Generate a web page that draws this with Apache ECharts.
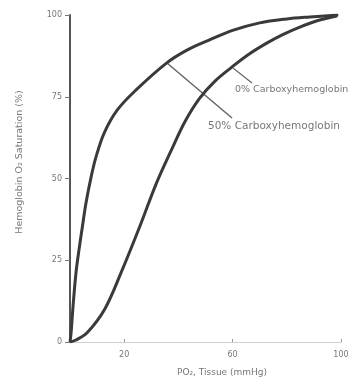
<!DOCTYPE html>
<html>
<head>
<meta charset="utf-8">
<script src="https://cdn.jsdelivr.net/npm/echarts@6/dist/echarts.min.js"></script>
<style>
  html, body { margin: 0; padding: 0; background: #fff; }
  #chart { width: 358px; height: 380px; }
</style>
</head>
<body>
<div id="chart"></div>
<script>
// PO2 (mm Hg) / saturation (%) pairs
const co50 = [[0,0],[0.4,2.8],[1.1,10.7],[2.2,21.1],[3.3,28.1],[4.4,34.3],[5.9,42.5],[7.8,50.5],[9.6,56.6],[12.6,63.9],[17.4,70.9],[24.4,77.1],[35.6,85.3],[43,89.2],[51.5,92.4],[60,95.3],[70,97.6],[80,98.8],[88.5,99.4],[99,100]];
const co0 = [[0,0],[2.2,0.6],[6.3,2.8],[12.8,10],[19,21.5],[25.6,35],[31.9,48.6],[37.4,58.7],[42.5,67.5],[47.8,74.5],[53.5,79.8],[59.6,84],[66,88],[72.6,91.4],[78.5,94],[84.8,96.3],[91.5,98.3],[98.5,99.7]];
const xTicks = [20, 60, 100];
const yTicks = [0, 25, 50, 75, 100];
const labelTop = '0% Carboxyhemoglobin';
const labelBottom = '50% Carboxyhemoglobin';

const chart = echarts.init(document.getElementById('chart'));
const font = 'DejaVu Sans';
const lineStyle = { color: '#3a3a3a', width: 3 };

chart.setOption({
  animation: false,
  textStyle: { fontFamily: font },
  grid: { left: 70, right: 17, top: 15, bottom: 38, outerBoundsMode: 'none' },
  xAxis: {
    type: 'value', min: 0, max: 100, interval: 20,
    axisLine: { lineStyle: { color: '#cfcfcf', width: 1 } },
    axisTick: { customValues: xTicks, length: 3, inside: true, lineStyle: { color: '#999' } },
    axisLabel: { customValues: xTicks, color: '#777', fontSize: 8, margin: 9 },
    splitLine: { show: false }
  },
  yAxis: {
    type: 'value', min: 0, max: 100, interval: 25,
    axisLine: { show: true, lineStyle: { color: '#555', width: 2 } },
    axisTick: { show: true, customValues: yTicks, length: 5, lineStyle: { color: '#777' } },
    axisLabel: { customValues: yTicks, color: '#777', fontSize: 8, margin: 8 },
    splitLine: { show: false }
  },
  series: [
    { type: 'line', data: co50, smooth: 0.35, showSymbol: false, lineStyle: lineStyle },
    { type: 'line', data: co0, smooth: 0.35, showSymbol: false, lineStyle: lineStyle }
  ],
  graphic: [
    { type: 'line', shape: { x1: 167, y1: 63, x2: 232, y2: 118 }, style: { stroke: '#666', lineWidth: 1.5 } },
    { type: 'line', shape: { x1: 233, y1: 68, x2: 252, y2: 83 }, style: { stroke: '#666', lineWidth: 1.2 } },
    { type: 'text', left: 235, top: 85, style: { text: labelTop, fill: '#777', fontSize: 9.5, fontFamily: font } },
    { type: 'text', left: 208, top: 121, style: { text: labelBottom, fill: '#777', fontSize: 10.5, fontFamily: font } },
    { type: 'text', x: 20, y: 162, rotation: Math.PI / 2,
      style: { text: 'Hemoglobin O\u2082 Saturation (%)', fill: '#777', fontSize: 9.5, fontFamily: font, align: 'center', verticalAlign: 'middle' } },
    { type: 'text', x: 222, y: 373, style: { text: 'PO\u2082, Tissue (mmHg)', fill: '#777', fontSize: 9, fontFamily: font, align: 'center', verticalAlign: 'middle' } }
  ]
});
</script>
</body>
</html>
